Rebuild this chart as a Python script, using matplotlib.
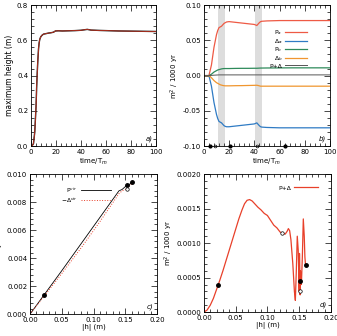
import numpy as np
import matplotlib.pyplot as plt
from matplotlib.ticker import AutoMinorLocator, FormatStrFormatter

plt.rcParams['font.size'] = 5
plt.rcParams['axes.linewidth'] = 0.6

# panel a: maximum height vs time
t_a = [0, 1, 2, 3, 4, 4.5, 5, 5.5, 6, 6.5, 7, 7.5, 8, 9, 10, 12, 14, 16, 18, 19.5, 22, 25, 30, 35, 40, 43, 45, 48, 55, 60, 70, 80, 90, 100]
h_a = [0, 0.003, 0.015, 0.08, 0.22, 0.33, 0.42, 0.49, 0.55, 0.585, 0.605, 0.615, 0.622, 0.63, 0.635, 0.638, 0.641, 0.643, 0.646, 0.653, 0.654, 0.653, 0.654, 0.655, 0.657, 0.66, 0.662, 0.658, 0.656, 0.655, 0.653, 0.652, 0.651, 0.65]

# panel b: rates vs time
t_b = [0, 4, 6, 8, 10, 11, 12, 13, 14, 15, 16, 17, 18, 20, 25, 30, 35, 40, 42, 43, 44, 45, 46, 50, 60, 70, 80, 90, 100]
P_a = [0, 0, 0.015, 0.04, 0.058, 0.064, 0.068, 0.069, 0.070, 0.072, 0.074, 0.075, 0.076, 0.0765, 0.0755, 0.0745, 0.0735, 0.0725, 0.071, 0.073, 0.075, 0.0765, 0.077, 0.0775, 0.078, 0.078, 0.078, 0.078, 0.078]
D_a = [0, 0, -0.015, -0.038, -0.055, -0.061, -0.065, -0.066, -0.067, -0.069, -0.071, -0.072, -0.0725, -0.0725, -0.0715, -0.0705, -0.0695, -0.0685, -0.067, -0.069, -0.071, -0.0725, -0.073, -0.0735, -0.074, -0.074, -0.074, -0.074, -0.074]
P_b = [0, 0, 0.002, 0.005, 0.007, 0.008, 0.0085, 0.009, 0.0095, 0.0098, 0.01, 0.01, 0.01, 0.01, 0.0102, 0.0103, 0.0103, 0.0104, 0.0104, 0.0105, 0.0106, 0.0107, 0.0107, 0.0108, 0.0109, 0.011, 0.011, 0.011, 0.011]
D_b = [0, 0, -0.003, -0.007, -0.01, -0.011, -0.012, -0.013, -0.0135, -0.014, -0.0143, -0.0145, -0.0145, -0.0145, -0.0143, -0.0142, -0.014, -0.0138, -0.0137, -0.014, -0.0145, -0.015, -0.015, -0.015, -0.015, -0.015, -0.015, -0.015, -0.015]
PD_b = [0, 0, 0.0003, 0.0006, 0.0008, 0.0009, 0.001, 0.001, 0.001, 0.001, 0.001, 0.001, 0.001, 0.001, 0.001, 0.001, 0.001, 0.001, 0.001, 0.001, 0.001, 0.001, 0.001, 0.001, 0.001, 0.001, 0.001, 0.001, 0.001]
bands = [(11.1, 16.4), (40.9, 46.2)]
t_filled = [4.5, 21, 64]
t_open = [9.2, 42]

# panel c: virial terms vs |h|
h_c = [0, 0.02, 0.05, 0.08, 0.11, 0.14, 0.145, 0.15, 0.155, 0.16]
Pvir = [0, 0.00124, 0.0031, 0.0050, 0.0069, 0.0088, 0.0089, 0.0091, 0.0092, 0.0094]
mDvir = [0, 0.00115, 0.0029, 0.0047, 0.0066, 0.0086, 0.0088, 0.0089, 0.0091, 0.0093]
c_filled_x = [0.022, 0.152, 0.16]
c_filled_y = [0.00135, 0.0092, 0.0094]
c_open_x = [0.153]
c_open_y = [0.0089]

# panel d: P+Delta vs |h|
h_d = [0, 0.005, 0.01, 0.015, 0.02, 0.025, 0.03, 0.035, 0.04, 0.045, 0.05, 0.055, 0.06, 0.064, 0.068, 0.072, 0.076, 0.08, 0.085, 0.09, 0.095, 0.1, 0.105, 0.11, 0.115, 0.12, 0.125, 0.128, 0.131, 0.133, 0.135, 0.137, 0.14, 0.1425, 0.144, 0.1455, 0.147, 0.1485, 0.15, 0.1505, 0.151, 0.1515, 0.152, 0.153, 0.1535, 0.155, 0.1565, 0.158, 0.159, 0.16]
PD_d = [0, 0.00003, 0.0001, 0.0002, 0.00033, 0.00046, 0.0006, 0.00075, 0.0009, 0.00105, 0.0012, 0.00135, 0.00148, 0.00157, 0.00162, 0.00163, 0.00161, 0.00157, 0.00152, 0.00148, 0.00143, 0.0014, 0.00133, 0.00126, 0.00122, 0.00116, 0.00114, 0.00113, 0.00117, 0.00121, 0.00118, 0.00105, 0.0007, 0.0003, 0.00017, 0.0006, 0.0011, 0.0009, 0.0003, 0.00085, 0.0006, 0.00025, 0.0006, 0.00045, 0.0004, 0.0008, 0.00135, 0.0011, 0.0008, 0.00068]
d_filled_x = [0.022, 0.152, 0.16]
d_filled_y = [0.0004, 0.00045, 0.00068]
d_open_x = [0.123, 0.152]
d_open_y = [0.00115, 0.0003]


def style(ax):
    ax.tick_params(which='both', direction='in', top=True, right=True, width=0.5, pad=2)
    ax.tick_params(which='major', length=4)
    ax.tick_params(which='minor', length=2)
    ax.xaxis.set_minor_locator(AutoMinorLocator(5))
    ax.yaxis.set_minor_locator(AutoMinorLocator(5))


fig = plt.figure(figsize=(3.37, 3.36), dpi=100)

ax1 = fig.add_axes([0.092, 0.565, 0.371, 0.42])
ax1.plot(t_a, h_a, color='black', lw=1.0)
ax1.plot(t_a, h_a, color='#e8402a', lw=0.5)
ax1.set_xlim(0, 100)
ax1.set_ylim(0, 0.8)
ax1.set_xticks([0, 20, 40, 60, 80, 100])
ax1.set_yticks([0, 0.2, 0.4, 0.6, 0.8])
ax1.yaxis.set_major_formatter(FormatStrFormatter('%.1f'))
ax1.set_xlabel('time/T$_m$', labelpad=1)
ax1.set_ylabel('maximum height (m)', labelpad=2, fontsize=5.5)
ax1.text(0.97, 0.03, 'a)', transform=ax1.transAxes, ha='right', va='bottom', style='italic')
style(ax1)

ax2 = fig.add_axes([0.605, 0.565, 0.374, 0.42])
for b0, b1 in bands:
    ax2.axvspan(b0, b1, color='#dddddd', lw=0)
ax2.plot(t_b, P_a, color='#ee5a45', lw=0.9, label='P$_a$')
ax2.plot(t_b, D_a, color='#2f7bc4', lw=0.9, label='Δ$_a$')
ax2.plot(t_b, P_b, color='#2e8a5a', lw=0.9, label='P$_b$')
ax2.plot(t_b, D_b, color='#f0962f', lw=0.9, label='Δ$_b$')
ax2.plot(t_b, PD_b, color='#555555', lw=0.7, label='P+Δ')
ax2.plot(t_filled, [-0.1] * len(t_filled), 'o', ms=2, color='black', clip_on=False)
ax2.plot(t_open, [-0.1] * len(t_open), 'o', ms=2, mfc='white', mec='black', mew=0.5, clip_on=False)
ax2.set_xlim(0, 100)
ax2.set_ylim(-0.1, 0.1)
ax2.set_xticks([0, 20, 40, 60, 80, 100])
ax2.set_yticks([-0.1, -0.05, 0, 0.05, 0.1])
ax2.yaxis.set_major_formatter(FormatStrFormatter('%.2f'))
ax2.set_xlabel('time/T$_m$', labelpad=1)
ax2.set_ylabel('m$^2$ / 1000 yr', labelpad=1)
ax2.legend(loc='upper right', bbox_to_anchor=(0.84, 0.86), frameon=False, markerfirst=False,
           fontsize=4.3, handlelength=3.6, labelspacing=0.0, handletextpad=0.5, borderpad=0)
ax2.text(0.97, 0.03, 'b)', transform=ax2.transAxes, ha='right', va='bottom', style='italic')
style(ax2)

ax3 = fig.add_axes([0.089, 0.065, 0.377, 0.417])
ax3.plot(h_c, Pvir, color='black', lw=0.6, label='P$^{vir}$')
ax3.plot(h_c, mDvir, color='#e8402a', lw=0.7, ls=':', label='−Δ$^{vir}$')
ax3.plot(c_filled_x, c_filled_y, 'o', ms=2.5, color='black')
ax3.plot(c_open_x, c_open_y, 'o', ms=2.5, mfc='white', mec='black', mew=0.5)
ax3.set_xlim(0, 0.2)
ax3.set_ylim(0, 0.01)
ax3.set_xticks([0, 0.05, 0.1, 0.15, 0.2])
ax3.set_yticks([0, 0.002, 0.004, 0.006, 0.008, 0.01])
ax3.xaxis.set_major_formatter(FormatStrFormatter('%.2f'))
ax3.yaxis.set_major_formatter(FormatStrFormatter('%.3f'))
ax3.set_xlabel('|h| (m)', labelpad=1)
ax3.set_ylabel('m yr$^{-1}$', labelpad=1)
ax3.legend(loc='upper left', bbox_to_anchor=(0.22, 0.94), frameon=False, markerfirst=False,
           fontsize=4.3, handlelength=5, labelspacing=0.1, handletextpad=0.6, borderpad=0)
ax3.text(0.97, 0.03, 'c)', transform=ax3.transAxes, ha='right', va='bottom', style='italic')
style(ax3)

ax4 = fig.add_axes([0.605, 0.071, 0.377, 0.411])
ax4.plot(h_d, PD_d, color='#e8402a', lw=0.9, label='P+Δ')
ax4.plot(d_filled_x, d_filled_y, 'o', ms=2.5, color='black')
ax4.plot(d_open_x, d_open_y, 'o', ms=2.5, mfc='white', mec='black', mew=0.5)
ax4.set_xlim(0, 0.2)
ax4.set_ylim(0, 0.002)
ax4.set_xticks([0, 0.05, 0.1, 0.15, 0.2])
ax4.set_yticks([0, 0.0005, 0.001, 0.0015, 0.002])
ax4.xaxis.set_major_formatter(FormatStrFormatter('%.2f'))
ax4.yaxis.set_major_formatter(FormatStrFormatter('%.4f'))
ax4.set_xlabel('|h| (m)', labelpad=1)
ax4.set_ylabel('m$^2$ / 1000 yr', labelpad=1)
ax4.legend(loc='upper right', bbox_to_anchor=(0.92, 0.94), frameon=False, markerfirst=False,
           fontsize=4.3, handlelength=4, handletextpad=0.5, borderpad=0)
ax4.text(0.97, 0.03, 'd)', transform=ax4.transAxes, ha='right', va='bottom', style='italic')
style(ax4)

fig.savefig('out.png', dpi=100)
